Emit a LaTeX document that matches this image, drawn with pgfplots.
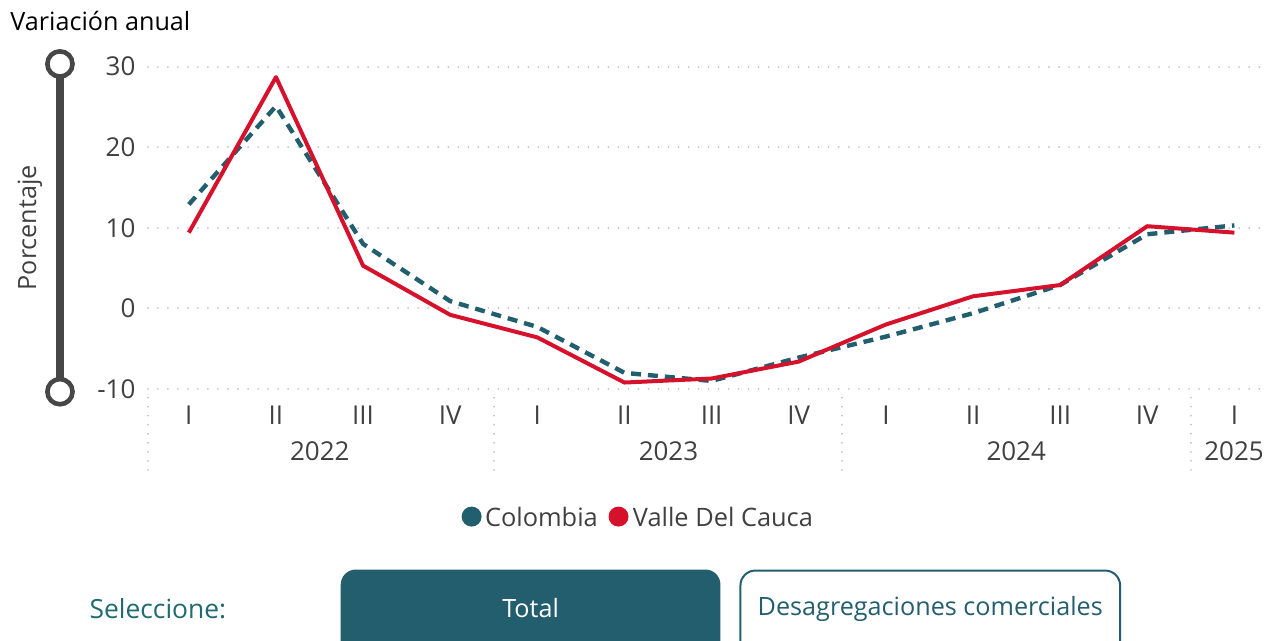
\documentclass[border=0pt]{standalone}
\usepackage{pgfplots}
\pgfplotsset{compat=1.18}
\usepackage{fontspec}
\setmainfont{Open Sans}
\definecolor{colb}{HTML}{215F6E}
\definecolor{valle}{HTML}{D6112B}
\definecolor{txt}{HTML}{404040}
\definecolor{gridc}{HTML}{C4C4C4}
\definecolor{slider}{HTML}{474747}
\definecolor{btn}{HTML}{235E6E}
\definecolor{sel}{HTML}{1F6B70}
\begin{document}
\begin{tikzpicture}
\begin{scope}[x=0.5pt,y=0.5pt]
\path[use as bounding box] (0,0) rectangle (1265,641);
% title
\node[anchor=west, inner sep=0pt, text=black, font=\fontsize{12.6}{14}\selectfont] at (10,620) {Variación anual};
% slider
\draw[slider, line width=4pt] (60,576) -- (60,250);
\draw[slider, line width=2.3pt, fill=white] (60,577) circle (6.3pt);
\draw[slider, line width=2.3pt, fill=white] (60,249) circle (6.3pt);
\node[rotate=90, text=txt, font=\fontsize{12.6}{14}\selectfont] at (30,413) {Porcentaje};
% separators
\foreach \sx in {148,494,843,1192}{
  \draw[gridc, line width=1pt, dash pattern=on 0.01pt off 4.5pt, line cap=round] (\sx,243) -- (\sx,169);
}
% year labels
\node[text=txt, font=\fontsize{13}{15}\selectfont, anchor=base] at (320,180) {2022};
\node[text=txt, font=\fontsize{13}{15}\selectfont, anchor=base] at (669,180) {2023};
\node[text=txt, font=\fontsize{13}{15}\selectfont, anchor=base] at (1017,180) {2024};
\node[text=txt, font=\fontsize{13}{15}\selectfont, anchor=base] at (1235,180) {2025};
% legend
\fill[colb] (472,124) circle (5pt);
\node[anchor=west, inner sep=0pt, text=txt, font=\fontsize{12.7}{14}\selectfont] at (485,124) {Colombia};
\fill[valle] (619,124) circle (5pt);
\node[anchor=west, inner sep=0pt, text=txt, font=\fontsize{12.7}{14}\selectfont] at (633,124) {Valle Del Cauca};
% selector
\node[text=sel, font=\fontsize{13.2}{15}\selectfont] at (158,32) {Seleccione:};
\fill[btn, rounded corners=7.5pt] (341,71) rectangle (721,-30);
\node[text=white, font=\fontsize{12.6}{14}\selectfont] at (531,32) {Total};
\draw[btn, line width=1pt, fill=white, rounded corners=7.5pt] (741,70) rectangle (1121,-30);
\node[text=btn, font=\fontsize{12.6}{14}\selectfont] at (931,32) {Desagregaciones comerciales};
\end{scope}
\begin{axis}[
  at={(74pt,125.85pt)}, anchor=south west,
  scale only axis, width=558.5pt, height=161.3pt,
  xmin=-0.47, xmax=12.34, ymin=-10, ymax=30,
  axis line style={draw=none}, tick style={draw=none},
  ytick={-10,0,10,20,30}, yticklabels={-10,0,10,20,30},
  xtick={0,...,12}, xticklabels={I,II,III,IV,I,II,III,IV,I,II,III,IV,I},
  ymajorgrids,
  grid style={gridc, line width=1pt, dash pattern=on 0.01pt off 5pt, line cap=round},
  ticklabel style={font=\fontsize{13}{15}\selectfont, text=txt},
  yticklabel style={anchor=east, xshift=-2.7pt},
  xticklabel style={anchor=base, yshift=-17.8pt},
  clip=false,
]
\addplot[colb, line width=2.2pt, dash pattern=on 5pt off 3.5pt] coordinates {
(0,12.9) (1,25.1) (2,8.0) (3,0.9) (4,-2.3) (5,-8.0) (6,-9.0) (7,-6.1) (8,-3.5) (9,-0.6) (10,2.9) (11,9.2) (12,10.3)};
\addplot[valle, line width=2pt, line join=round] coordinates {
(0,9.4) (1,28.7) (2,5.3) (3,-0.8) (4,-3.6) (5,-9.2) (6,-8.7) (7,-6.6) (8,-2.0) (9,1.5) (10,2.9) (11,10.2) (12,9.4)};
\end{axis}
\end{tikzpicture}
\end{document}
